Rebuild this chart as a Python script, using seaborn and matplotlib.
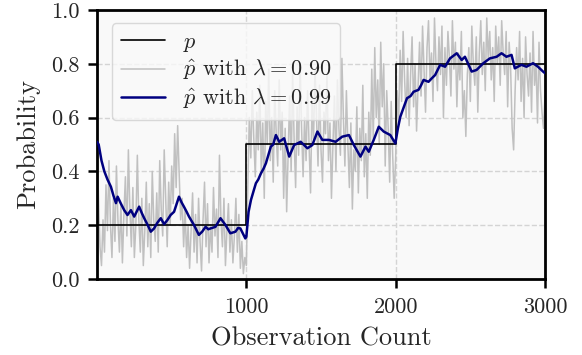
import matplotlib
matplotlib.use("Agg")
import matplotlib.pyplot as plt
import seaborn as sns
import numpy as np
import pandas as pd

# ---------------- data ----------------
# true probability (step function)
p_x = [0, 1000, 2000, 3000]
p_y = [0.2, 0.5, 0.8, 0.8]

# p-hat with lambda = 0.99
slow_x = [0, 11, 30, 49, 70, 93, 110, 127, 138, 160, 182, 204, 227, 249, 282, 300, 316, 340,
          360, 382, 405, 427, 449, 471, 493, 516, 549, 566, 582, 600, 616, 649, 682, 704,
          727, 745, 760, 793, 810, 827, 860, 893, 927, 945, 960, 993, 1000, 1015, 1031,
          1050, 1064, 1080, 1098, 1115, 1131, 1164, 1180, 1198, 1220, 1253, 1287, 1320,
          1364, 1409, 1442, 1476, 1509, 1553, 1598, 1642, 1687, 1720, 1764, 1798, 1820,
          1853, 1887, 1920, 1964, 1998, 2015, 2031, 2055, 2076, 2100, 2120, 2153, 2170,
          2187, 2220, 2242, 2264, 2298, 2331, 2364, 2409, 2442, 2464, 2509, 2542, 2587,
          2631, 2676, 2709, 2742, 2776, 2798, 2842, 2876, 2920, 2953, 2987, 3000]
slow_y = [0.51, 0.50, 0.44, 0.40, 0.37, 0.343, 0.31, 0.282, 0.306, 0.28, 0.256, 0.238,
          0.256, 0.232, 0.269, 0.245, 0.226, 0.20, 0.176, 0.188, 0.21, 0.226, 0.204, 0.219,
          0.238, 0.250, 0.306, 0.285, 0.269, 0.25, 0.232, 0.201, 0.164, 0.176, 0.194,
          0.185, 0.188, 0.194, 0.21, 0.226, 0.201, 0.170, 0.176, 0.19, 0.188, 0.151,
          0.157, 0.25, 0.294, 0.33, 0.356, 0.37, 0.393, 0.41, 0.430, 0.492, 0.50, 0.535,
          0.510, 0.523, 0.455, 0.498, 0.510, 0.486, 0.498, 0.548, 0.517, 0.517, 0.510,
          0.529, 0.535, 0.498, 0.455, 0.492, 0.473, 0.517, 0.566, 0.548, 0.535, 0.504,
          0.56, 0.603, 0.64, 0.672, 0.68, 0.696, 0.703, 0.72, 0.740, 0.733, 0.746, 0.758,
          0.796, 0.789, 0.820, 0.839, 0.814, 0.826, 0.771, 0.777, 0.802, 0.820, 0.826,
          0.839, 0.826, 0.833, 0.783, 0.796, 0.789, 0.802, 0.789, 0.771, 0.765]

# p-hat with lambda = 0.90 (sampled every 10 observations)
fast_x = list(range(0, 3001, 10))
fast_seg1 = [0.50, 0.30, 0.12, 0.05, 0.22, 0.10, 0.35, 0.18, 0.44, 0.20,
             0.08, 0.30, 0.14, 0.42, 0.22, 0.10, 0.28, 0.06, 0.24, 0.38,
             0.16, 0.48, 0.26, 0.12, 0.34, 0.08, 0.20, 0.46, 0.22, 0.10,
             0.30, 0.05, 0.18, 0.36, 0.12, 0.28, 0.08, 0.40, 0.22, 0.14,
             0.32, 0.10, 0.44, 0.26, 0.16, 0.48, 0.30, 0.12, 0.36, 0.20,
             0.42, 0.28, 0.54, 0.34, 0.57, 0.40, 0.22, 0.30, 0.12, 0.26,
             0.08, 0.20, 0.04, 0.18, 0.32, 0.10, 0.24, 0.06, 0.30, 0.14,
             0.03, 0.22, 0.36, 0.12, 0.28, 0.06, 0.20, 0.10, 0.34, 0.16,
             0.26, 0.08, 0.46, 0.22, 0.12, 0.30, 0.05, 0.18, 0.28, 0.10,
             0.22, 0.06, 0.16, 0.30, 0.10, 0.24, 0.04, 0.14, 0.02, 0.08]
fast_seg2 = [0.05, 0.35, 0.60, 0.45, 0.70, 0.52, 0.38, 0.62, 0.48, 0.72,
             0.40, 0.58, 0.30, 0.66, 0.50, 0.78, 0.44, 0.60, 0.36, 0.70,
             0.54, 0.42, 0.74, 0.48, 0.62, 0.30, 0.56, 0.25, 0.46, 0.68,
             0.40, 0.76, 0.52, 0.34, 0.64, 0.46, 0.80, 0.56, 0.38, 0.60,
             0.44, 0.70, 0.50, 0.32, 0.66, 0.52, 0.78, 0.60, 0.42, 0.72,
             0.48, 0.36, 0.62, 0.54, 0.76, 0.44, 0.58, 0.30, 0.50, 0.68,
             0.40, 0.74, 0.56, 0.46, 0.82, 0.60, 0.42, 0.70, 0.50, 0.34,
             0.58, 0.26, 0.48, 0.40, 0.64, 0.32, 0.56, 0.44, 0.72, 0.38,
             0.54, 0.30, 0.62, 0.46, 0.78, 0.52, 0.86, 0.60, 0.74, 0.50,
             0.88, 0.64, 0.80, 0.42, 0.70, 0.56, 0.36, 0.66, 0.46, 0.30]
fast_seg3 = [0.45, 0.70, 0.58, 0.85, 0.66, 0.92, 0.74, 0.60, 0.82, 0.57,
             0.76, 0.90, 0.64, 0.80, 0.55, 0.72, 0.88, 0.68, 0.94, 0.78,
             0.62, 0.86, 0.96, 0.74, 0.84, 0.66, 0.97, 0.80, 0.70, 0.90,
             0.76, 0.94, 0.60, 0.86, 0.72, 0.92, 0.82, 0.68, 0.96, 0.78,
             0.88, 0.64, 0.84, 0.74, 0.92, 0.60, 0.70, 0.53, 0.76, 0.86,
             0.66, 0.94, 0.80, 0.72, 0.90, 0.62, 0.84, 0.96, 0.76, 0.88,
             0.70, 0.97, 0.82, 0.92, 0.74, 0.86, 0.66, 0.94, 0.80, 0.90,
             0.72, 0.96, 0.84, 0.76, 0.92, 0.64, 0.88, 0.78, 0.56, 0.48,
             0.70, 0.86, 0.74, 0.92, 0.66, 0.82, 0.60, 0.90, 0.76, 0.68,
             0.84, 0.62, 0.92, 0.72, 0.80, 0.58, 0.88, 0.70, 0.62, 0.56, 0.68]
fast_y = fast_seg1 + fast_seg2 + fast_seg3

x_ticks = [1000, 2000, 3000]
y_ticks = [0.0, 0.2, 0.4, 0.6, 0.8, 1.0]

# ---------------- style ----------------
sns.set_theme(style="whitegrid")
plt.rcParams.update({
    "font.family": ["cmr10"],
    "mathtext.fontset": "cm",
    "axes.formatter.use_mathtext": True,
    "axes.unicode_minus": False,
})

fig = plt.figure(figsize=(5.82, 3.55), dpi=100)
ax = fig.add_axes([0.1667, 0.214, 0.7697, 0.758])
ax.set_facecolor("#f9f9f9")

sns.lineplot(x=p_x, y=p_y, ax=ax, color="black", linewidth=1.2,
             drawstyle="steps-post", label=r"$p$", zorder=3)
sns.lineplot(x=fast_x, y=fast_y, ax=ax, color="#c0c0c0", linewidth=1.1,
             label=r"$\hat{p}$ with $\lambda = 0.90$", zorder=2)
sns.lineplot(x=slow_x, y=slow_y, ax=ax, color="#000080", linewidth=1.8,
             label=r"$\hat{p}$ with $\lambda = 0.99$", zorder=4)

ax.set_xlim(0, 3000)
ax.set_ylim(0, 1.0)
ax.set_xticks(x_ticks)
ax.set_xticklabels([str(v) for v in x_ticks])
ax.set_yticks(y_ticks)
ax.set_yticklabels([f"{v:.1f}" for v in y_ticks])

ax.grid(True, linestyle="--", color="#d4d4d4", linewidth=1.0)
for s in ax.spines.values():
    s.set_color("black")
    s.set_linewidth(2.0)
ax.tick_params(axis="both", which="major", direction="out", length=6.5, width=1.8,
               color="black", labelsize=16, bottom=True, left=True)
ax.tick_params(axis="x", pad=7)
ax.tick_params(axis="y", pad=6)

ax.set_xlabel("Observation Count", fontsize=19, labelpad=7)
ax.set_ylabel("Probability", fontsize=19, labelpad=8)

leg = ax.legend(loc="upper left", fontsize=16, frameon=True, fancybox=True,
                framealpha=0.8, handlelength=2.0, borderpad=0.4,
                labelspacing=0.2, handletextpad=0.8,
                bbox_to_anchor=(0.008, 0.992))
leg.get_frame().set_edgecolor("#d0d0d0")
leg.get_frame().set_facecolor("#f9f9f9")

fig.savefig("out.png", dpi=100)
